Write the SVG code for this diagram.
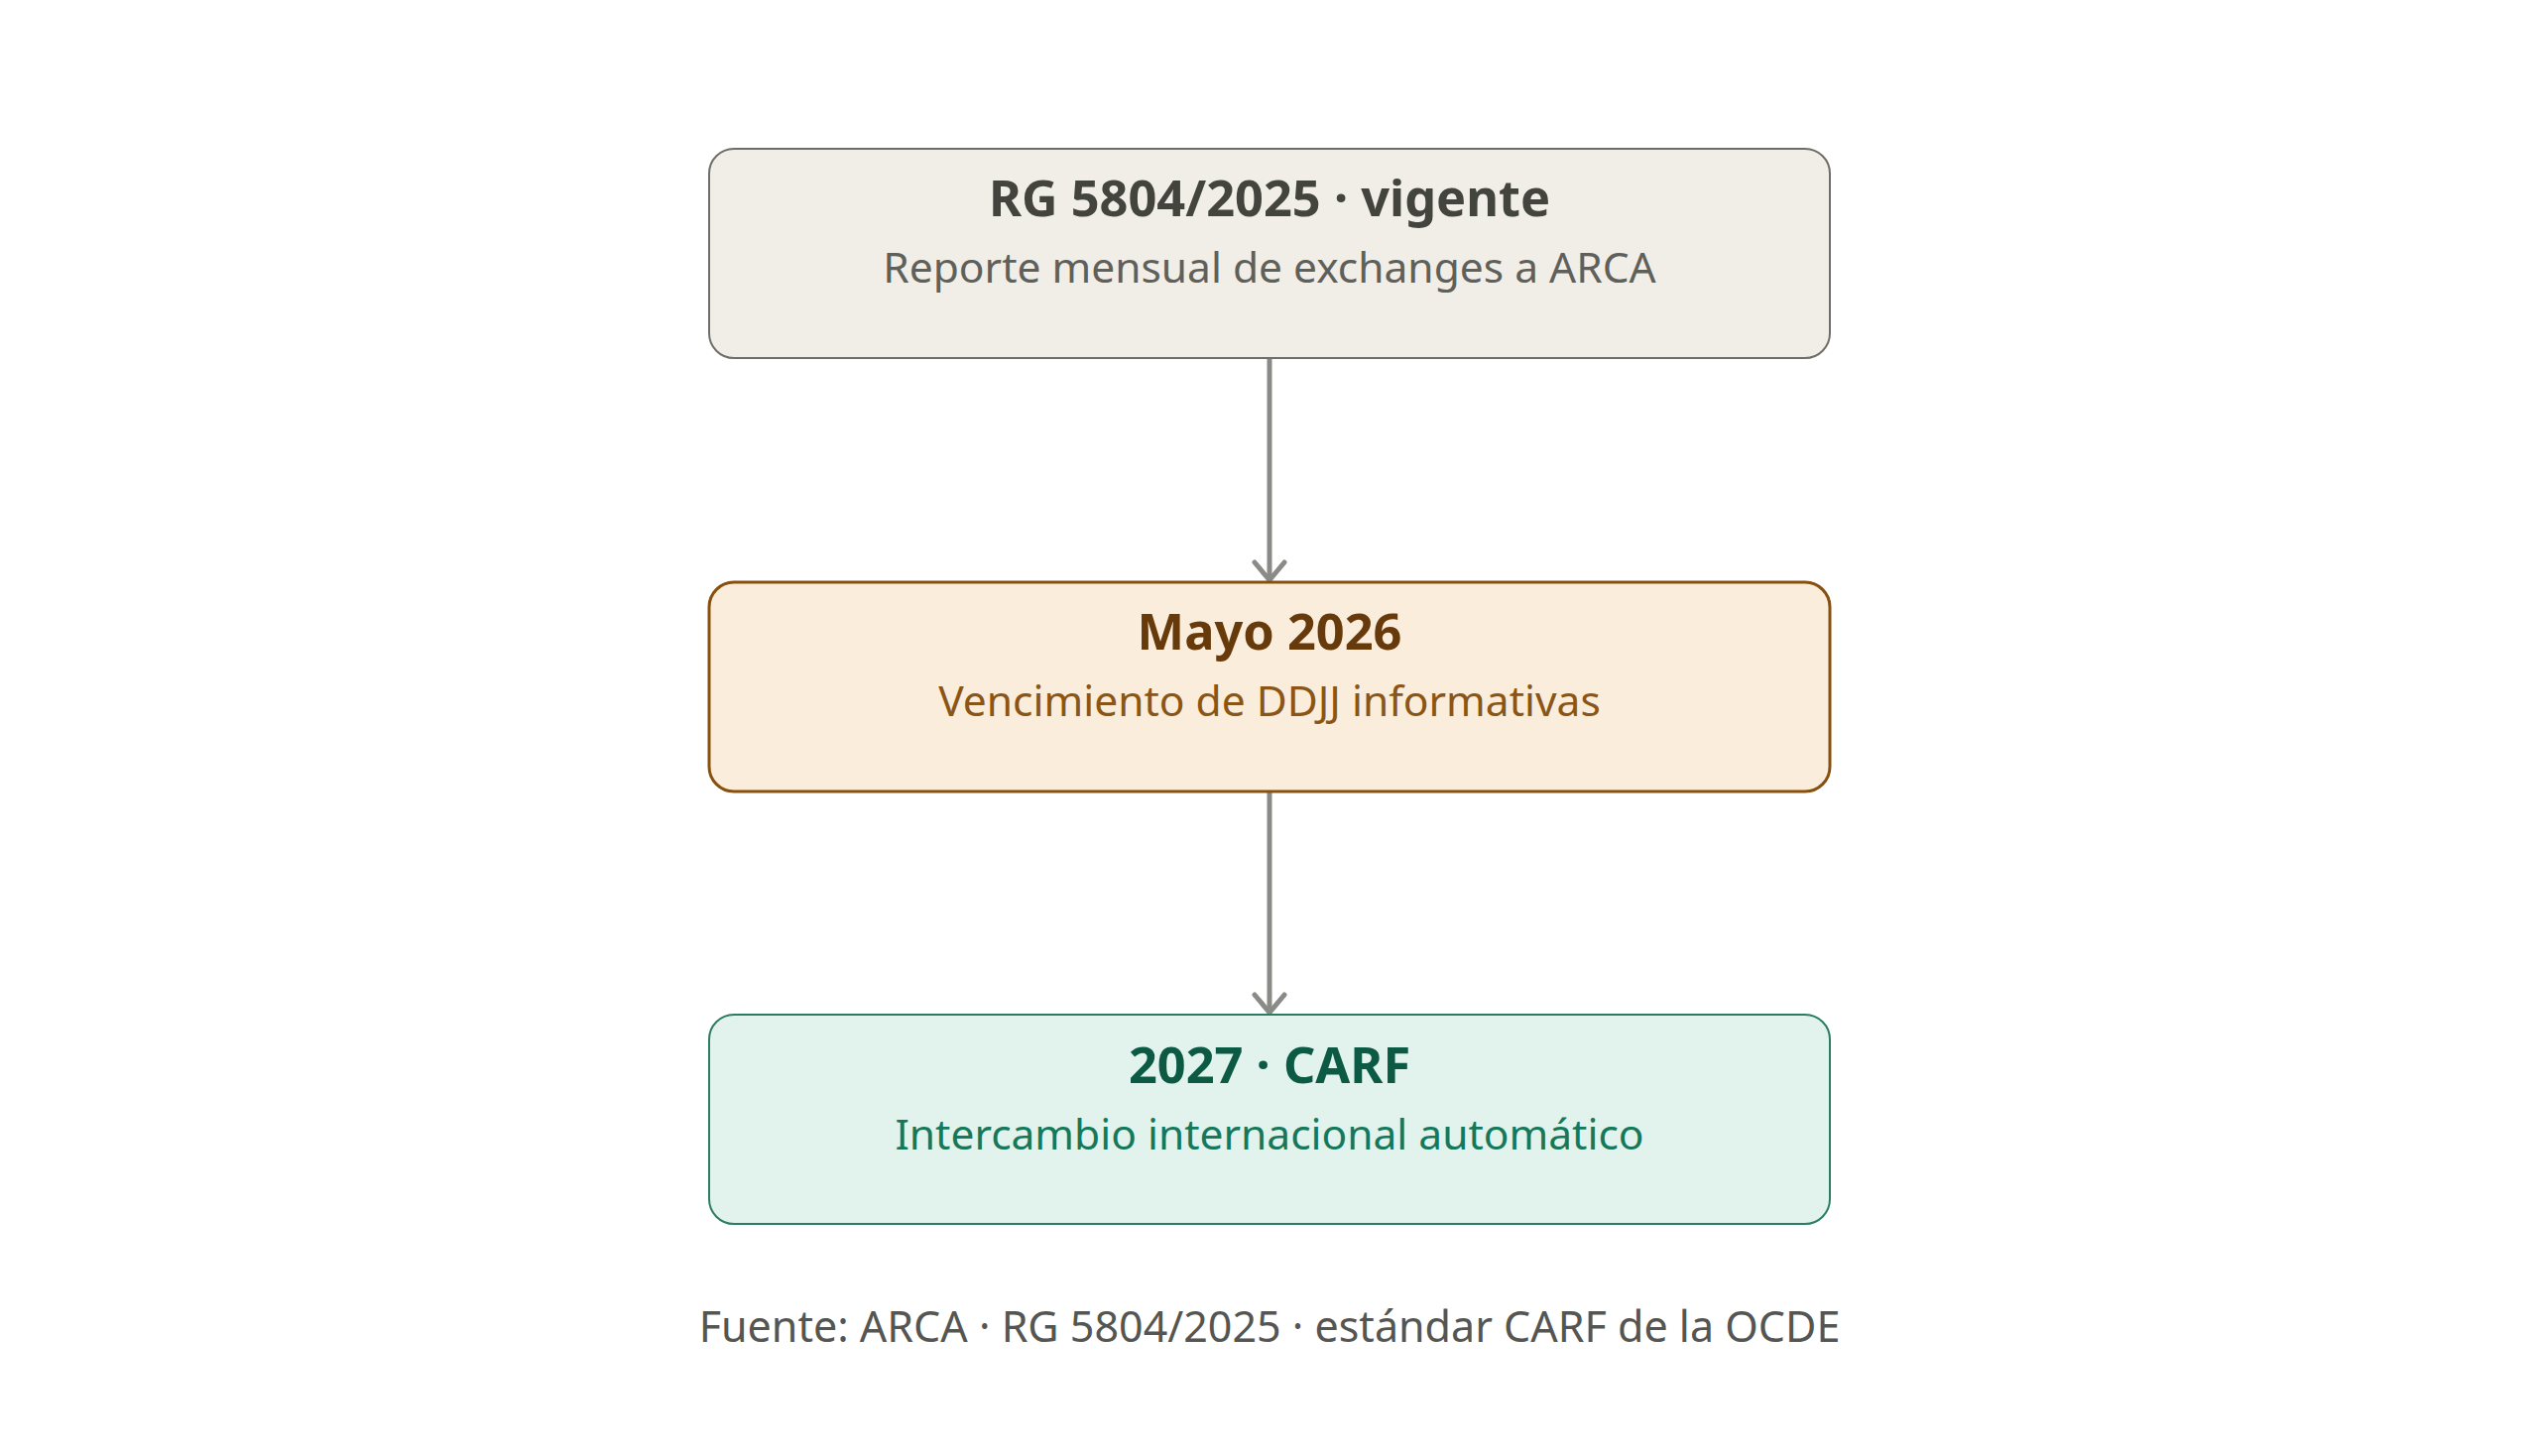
<svg xmlns="http://www.w3.org/2000/svg" width="2560" height="1468" viewBox="0 0 2560 1468">
<defs>
<style>
.t{font-family:"Noto Sans","Open Sans",sans-serif;text-anchor:middle}
.h{font-size:50.5px;font-weight:700}
.s{font-size:42.5px;font-weight:400}
.conn{stroke:#8a8a86;stroke-width:5;fill:none;stroke-linecap:round;stroke-linejoin:round}
</style>
</defs>
<rect width="2560" height="1468" fill="#ffffff"/>
<g id="connectors">
<line class="conn" x1="1280" y1="362" x2="1280" y2="584"/>
<polyline class="conn" points="1265,567 1280,585 1295,567"/>
<line class="conn" x1="1280" y1="799" x2="1280" y2="1020"/>
<polyline class="conn" points="1265,1003 1280,1021 1295,1003"/>
</g>
<g id="node-rg">
<rect x="715" y="150" width="1130" height="211" rx="25" fill="#f1eee8" stroke="#6e6e69" stroke-width="2"/>
<text class="t h" x="1280" y="218" fill="#44443f">RG 5804/2025 · vigente</text>
<text class="t s" x="1280" y="285" fill="#60605b">Reporte mensual de exchanges a ARCA</text>
</g>
<g id="node-mayo">
<rect x="715" y="587" width="1130" height="211" rx="25" fill="#faeddb" stroke="#87500f" stroke-width="3"/>
<text class="t h" x="1280" y="655" fill="#673a0c">Mayo 2026</text>
<text class="t s" x="1280" y="722" fill="#8a5515">Vencimiento de DDJJ informativas</text>
</g>
<g id="node-carf">
<rect x="715" y="1023" width="1130" height="211" rx="25" fill="#e1f3ec" stroke="#2b7d62" stroke-width="2"/>
<text class="t h" x="1280" y="1092" fill="#0d5a44">2027 · CARF</text>
<text class="t s" x="1280" y="1159" fill="#16785a">Intercambio internacional automático</text>
</g>
<text class="t" x="1280" y="1353" font-size="43" fill="#555552">Fuente: ARCA · RG 5804/2025 · estándar CARF de la OCDE</text>
</svg>
